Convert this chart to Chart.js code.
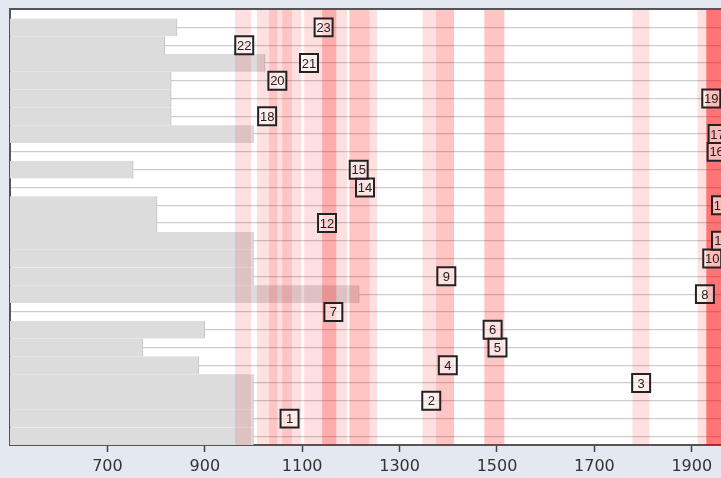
<!DOCTYPE html>
<html lang="en">
  <head>
    <meta charset="UTF-8" />
    <script src="https://cdn.jsdelivr.net/npm/chart.js@4.4.0/dist/chart.umd.min.js"></script>
    <title>Timeline</title>
    <style>
      html, body { margin: 0; padding: 0; background: #e4e9f1; }
      .chart_wrap { width: 721px; height: 478px; }
    </style>
  </head>
  <body>
    <div class="chart_wrap">
      <canvas id="myChart"></canvas>
    </div>

    <script>
      // rows from bottom (0) to top (23)
      const rows = [0, 1, 2, 3, 4, 5, 6, 7, 8, 9, 10, 11, 12, 13, 14, 15, 16, 17, 18, 19, 20, 21, 22, 23];
      const greyStart = 500;
      const greyEnd = [1000, 1000, 1000, 1000, 888, 773, 900, null, 1217, 1000, 1000, 1000,
                       802, 802, null, 753, null, 1000, 831, 831, 831, 1024, 818, 843];

      // numbered markers, row = number
      const markerLabels = ["1", "2", "3", "4", "5", "6", "7", "8", "9", "10", "11", "12",
                            "13", "14", "15", "16", "17", "18", "19", "20", "21", "22", "23"];
      const markerYear = [1074, 1365, 1796, 1399, 1501, 1491, 1164, 1927, 1396, 1942, 1960, 1151,
                          1960, 1229, 1216, 1951, 1953, 1028, 1940, 1049, 1114, 981, 1144];

      // shaded periods (overlaps make the darker parts)
      const bandStart = [962, 1007, 1032, 1059, 1104, 1141, 1141, 1197, 1197, 1347, 1375,
                         1474, 1474, 1778, 1912, 1930, 1930, 1930, 1930, 1930];
      const bandEnd = [995, 1098, 1049, 1079, 1192, 1170, 1170, 1254, 1238, 1412, 1412,
                       1515, 1515, 1813, 1960, 1960, 1960, 1960, 1960, 1960];

      const xTicks = [700, 900, 1100, 1300, 1500, 1700, 1900];

      const greyData = rows
        .filter((r) => greyEnd[r] !== null)
        .map((r) => ({ x: [greyStart, greyEnd[r]], y: r }));
      const markerData = markerLabels.map((l, i) => ({ x: markerYear[i], y: i + 1 }));

      const bandsPlugin = {
        id: "bands",
        beforeDraw(chart) {
          const { ctx, chartArea: a } = chart;
          ctx.save();
          ctx.fillStyle = "#ffffff";
          ctx.fillRect(a.left, a.top, a.right - a.left, a.bottom - a.top);
          ctx.restore();
        },
        afterDatasetDraw(chart, args) {
          if (args.index !== 0) return;
          const { ctx, chartArea: a, scales } = chart;
          ctx.save();
          ctx.beginPath();
          ctx.rect(a.left, a.top, a.right - a.left, a.bottom - a.top);
          ctx.clip();
          ctx.fillStyle = "rgba(255, 0, 0, 0.12)";
          bandStart.forEach((s, i) => {
            const x0 = scales.x.getPixelForValue(s);
            const x1 = scales.x.getPixelForValue(bandEnd[i]);
            ctx.fillRect(x0, a.top, x1 - x0, a.bottom - a.top);
          });
          ctx.restore();
        },
        afterDatasetsDraw(chart) {
          const { ctx, chartArea: a } = chart;
          const meta = chart.getDatasetMeta(1);
          ctx.save();
          ctx.beginPath();
          ctx.rect(a.left, a.top, a.right - a.left, a.bottom - a.top);
          ctx.clip();
          ctx.fillStyle = "#222";
          ctx.font = "13px 'Liberation Sans', Arial, sans-serif";
          ctx.textAlign = "center";
          ctx.textBaseline = "middle";
          meta.data.forEach((pt, i) => {
            ctx.fillText(markerLabels[i], pt.x, pt.y + 1);
          });
          ctx.restore();
        },
        afterDraw(chart) {
          const { ctx, chartArea: a } = chart;
          ctx.save();
          ctx.strokeStyle = "#555";
          ctx.lineWidth = 2;
          ctx.beginPath();
          ctx.moveTo(a.left, a.top);
          ctx.lineTo(a.right, a.top);
          ctx.stroke();
          ctx.restore();
        },
      };

      const config = {
        type: "bar",
        data: {
          datasets: [
            {
              label: "grey",
              data: greyData,
              backgroundColor: "#dcdcdc",
              borderColor: "#c4c4c4",
              borderWidth: { top: 0, right: 1, bottom: 0, left: 0 },
              borderSkipped: false,
              barPercentage: 1,
              categoryPercentage: 1,
              order: 2,
            },
            {
              type: "scatter",
              label: "markers",
              data: markerData,
              pointStyle: "rect",
              pointRadius: 12.7,
              pointHoverRadius: 12.7,
              backgroundColor: "rgba(255, 255, 255, 0.5)",
              borderColor: "#222",
              borderWidth: 2,
              order: 1,
            },
          ],
        },
        options: {
          indexAxis: "y",
          responsive: true,
          maintainAspectRatio: false,
          animation: false,
          layout: { autoPadding: false, padding: { top: 9, left: 10, right: 0, bottom: 0 } },
          plugins: {
            legend: { display: false },
            tooltip: { enabled: false },
          },
          scales: {
            x: {
              type: "linear",
              min: 500,
              max: 1960,
              afterBuildTicks: (axis) => {
                axis.ticks = xTicks.map((v) => ({ value: v }));
              },
              afterFit: (axis) => {
                axis.height = 33;
              },
              grid: {
                drawOnChartArea: false,
                drawTicks: true,
                tickLength: 7,
                tickColor: "#444",
                tickWidth: 1.5,
              },
              border: { display: true, color: "#555", width: 2 },
              ticks: {
                color: "#333",
                padding: 5,
                font: { family: "'DejaVu Sans', sans-serif", size: 16 },
                callback: (v) => String(v),
              },
            },
            y: {
              type: "linear",
              min: 0.05,
              max: 23.5,
              z: 1,
              afterBuildTicks: (axis) => {
                axis.ticks = rows.slice(0, 23).map((r) => ({ value: r + 0.5 }));
              },
              grid: {
                color: "rgba(0, 0, 0, 0.2)",
                lineWidth: 1.2,
                drawTicks: false,
              },
              border: { display: true, color: "#555", width: 2 },
              ticks: { display: false },
            },
          },
        },
        plugins: [bandsPlugin],
      };

      const myChart = new Chart(document.getElementById("myChart"), config);
    </script>
  </body>
</html>
